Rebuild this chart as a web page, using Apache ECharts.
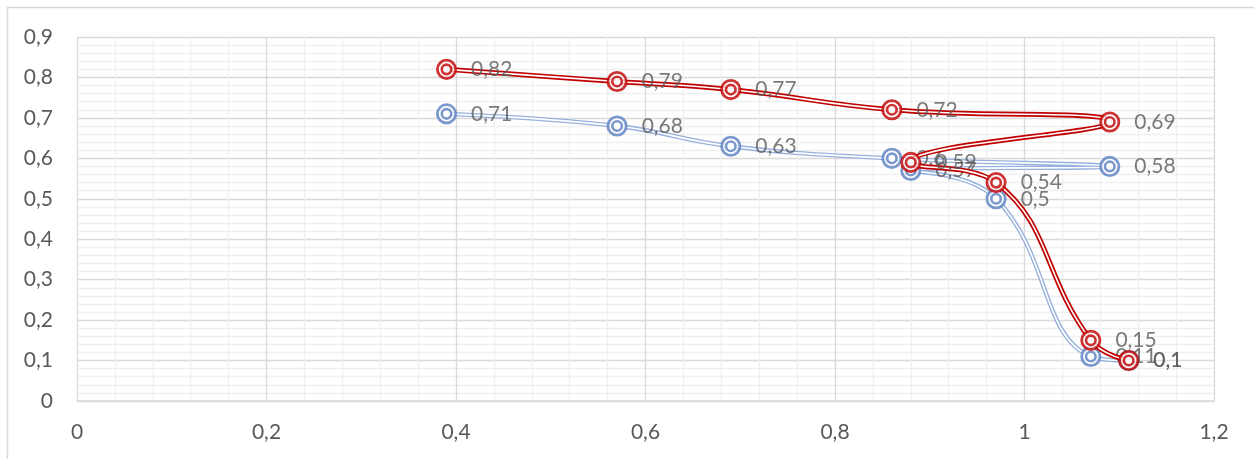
<!DOCTYPE html>
<html>
<head>
<meta charset="utf-8">
<script src="https://cdn.jsdelivr.net/npm/echarts@6/dist/echarts.min.js"></script>
<style>
html,body{margin:0;padding:0;background:#fff;}
#c{width:1254px;height:459px;}
</style>
</head>
<body>
<div id="c"></div>
<script>
// Data
const blueX = [0.39, 0.57, 0.69, 0.86, 1.09, 0.88, 0.97, 1.07, 1.11];
const blueY = [0.71, 0.68, 0.63, 0.60, 0.58, 0.57, 0.50, 0.11, 0.10];
const redX  = [0.39, 0.57, 0.69, 0.86, 1.09, 0.88, 0.97, 1.07, 1.11];
const redY  = [0.82, 0.79, 0.77, 0.72, 0.69, 0.59, 0.54, 0.15, 0.10];
const xTicks = [0, 0.2, 0.4, 0.6, 0.8, 1, 1.2];
const yTicks = [0, 0.1, 0.2, 0.3, 0.4, 0.5, 0.6, 0.7, 0.8, 0.9];

const FONT = 'Lato, "Liberation Sans", sans-serif';
const fmt = v => String(Math.round(v * 100) / 100).replace('.', ',');
const pairs = (xs, ys) => xs.map((x, i) => [x, ys[i]]);

function seriesFor(name, xs, ys, markColor, lineColor, lineW, zBase) {
  const d = pairs(xs, ys);
  return [
    { name: name, type: 'line', data: d, smooth: 0.45, showSymbol: false, silent: true,
      lineStyle: { color: lineColor, width: lineW }, z: zBase, animation: false },
    { name: name + '_in', type: 'line', data: d, smooth: 0.45, showSymbol: false, silent: true,
      lineStyle: { color: '#ffffff', width: 1.6 }, z: zBase + 0.1, animation: false },
    { name: name + '_ro', type: 'scatter', data: d, symbol: 'circle', symbolSize: 18.3,
      itemStyle: { color: '#ffffff', borderColor: markColor, borderWidth: 2.8 },
      label: { show: true, position: 'right', distance: 14, color: '#595959',
        fontFamily: FONT, fontSize: 21, formatter: p => fmt(p.value[1]) },
      z: zBase + 0.2, animation: false },
    { name: name + '_ri', type: 'scatter', data: d, symbol: 'circle', symbolSize: 9.5,
      itemStyle: { color: '#ffffff', borderColor: markColor, borderWidth: 2.6 },
      z: zBase + 0.3, animation: false }
  ];
}

const chart = echarts.init(document.getElementById('c'), null, { renderer: 'canvas' });
chart.setOption({
  backgroundColor: '#ffffff',
  animation: false,
  graphic: [{ type: 'rect', shape: { x: 7.5, y: 7.5, width: 1400, height: 600 },
    style: { fill: 'none', stroke: '#d9d9d9', lineWidth: 1.5 }, silent: true, z: -10 }],
  grid: { left: 77, right: 40, top: 37, bottom: 58, containLabel: false },
  xAxis: {
    type: 'value', min: xTicks[0], max: xTicks[xTicks.length - 1], interval: 0.2,
    axisLine: { show: true, lineStyle: { color: '#d9d9d9', width: 1.5 } },
    axisTick: { show: false },
    axisLabel: { color: '#595959', fontFamily: FONT, fontSize: 21, margin: 21, formatter: v => fmt(v) },
    splitLine: { show: true, lineStyle: { color: '#d9d9d9', width: 1.3 } },
    minorTick: { show: false, splitNumber: 5 },
    minorSplitLine: { show: true, lineStyle: { color: '#f0f0f0', width: 1.3 } }
  },
  yAxis: {
    type: 'value', min: yTicks[0], max: yTicks[yTicks.length - 1], interval: 0.1,
    axisLine: { show: false },
    axisTick: { show: false },
    axisLabel: { color: '#595959', fontFamily: FONT, fontSize: 21, margin: 24, formatter: v => fmt(v) },
    splitLine: { show: true, lineStyle: { color: '#d9d9d9', width: 1.3 } },
    minorTick: { show: false, splitNumber: 5 },
    minorSplitLine: { show: true, lineStyle: { color: '#f0f0f0', width: 1.3 } }
  },
  series: [].concat(
    seriesFor('blue', blueX, blueY, '#5b7fc0', '#97b1df', 4.4, 2),
    seriesFor('red', redX, redY, '#c00000', '#c00000', 5, 4)
  )
});
</script>
</body>
</html>
